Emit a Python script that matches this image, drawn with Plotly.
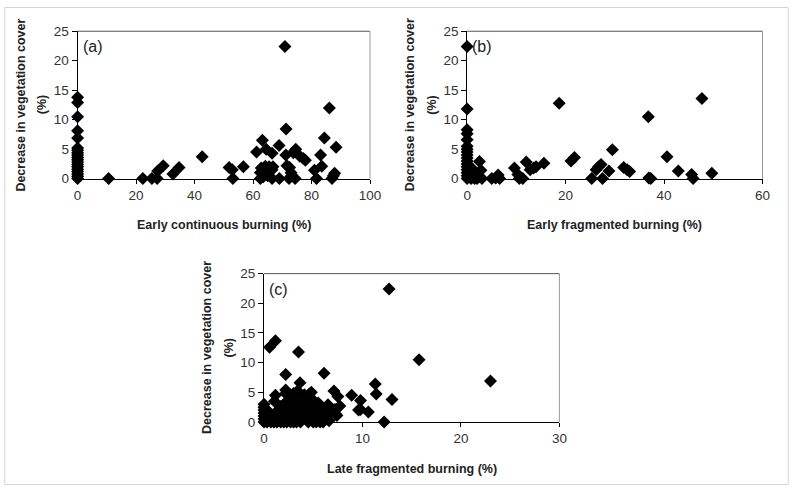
import plotly.graph_objects as go

# ---------------- data ----------------
# Panel (a): Early continuous burning (%) vs decrease in vegetation cover (%)
a_x = [0]*19 + [10.6, 22.3, 25.4, 27.4, 27.2, 29.3, 32.6, 34.7, 42.6, 51.8, 52.9, 53.1, 56.7,
                61.2, 63.2, 64.5, 66.5, 68.9, 70.9, 71.3, 71.2, 71.6, 72.5, 73.0, 73.8, 74.6,
                74.2, 76.0, 77.2, 77.9, 74.4, 72.3, 73.2, 69.0, 66.5, 62.5, 64.2, 62.8, 62.5,
                65.5, 66.5, 66.8, 81.0, 81.7, 83.1, 83.5, 84.4, 86.1, 88.4, 87.0, 87.9, 87.5,
                63.5, 65.0]
a_y = [13.8, 12.9, 10.5, 8.1, 6.9, 5.2, 4.8, 4.4, 4.0, 3.6, 3.2, 2.8, 2.4, 2.0, 1.6, 1.2, 0.8, 0.4, 0.0] + \
      [0.0, 0.0, 0.0, 1.3, 0.0, 2.2, 0.8, 1.9, 3.7, 1.9, 1.5, 0.0, 2.0,
       4.5, 6.5, 5.0, 4.3, 5.6, 22.4, 8.4, 4.0, 2.2, 1.9, 1.0, 4.4, 5.0,
       4.7, 3.8, 3.4, 3.1, 0.0, 0.0, 0.5, 0.0, 0.0, 0.0, 2.1, 1.8, 1.0,
       2.0, 1.5, 2.0, 1.4, 0.0, 4.0, 2.1, 6.9, 12.0, 5.3, 0.0, 0.9, 0.5,
       0.3, 0.5]

# Panel (b): Early fragmented burning (%)
b_x = [0]*17 + [0.5, 0.7, 1.0, 1.3, 0.4, 1.7, 2.0, 1.5, 2.5, 2.8, 2.5, 3.0, 0.8, 2.2,
                5.0, 5.8, 6.3, 6.6, 9.6, 10.3, 10.6, 11.3, 12.0, 12.8, 13.5, 14.0, 15.6,
                18.7, 21.1, 21.8, 25.3, 26.2, 26.7, 27.2, 27.5, 28.8, 29.5, 31.8, 32.5,
                33.0, 36.8, 36.9, 37.3, 40.6, 42.9, 45.6, 45.9, 47.7, 49.7]
b_y = [22.4, 11.8, 8.3, 7.6, 6.6, 5.5, 5.0, 4.5, 4.0, 3.5, 3.0, 2.5, 2.0, 1.5, 1.0, 0.5, 0.0] + \
      [2.0, 0.9, 1.7, 0.3, 0.4, 0.8, 0.0, 0.0, 2.9, 1.4, 0.3, 0.0, 0.0, 0.6,
       0.0, 0.1, 0.6, 0.0, 1.8, 0.7, 0.0, 0.0, 2.8, 1.5, 1.8, 2.0, 2.6,
       12.8, 3.0, 3.6, 0.0, 1.5, 2.0, 2.4, 0.0, 1.3, 4.9, 1.9, 1.5,
       1.2, 10.5, 0.1, 0.0, 3.7, 1.3, 0.7, 0.0, 13.6, 0.9]

# Panel (c): Late fragmented burning (%)
c_x = [0.56, 1.16, 3.5, 2.2, 3.65, 6.1, 11.3, 11.4, 9.8, 8.9, 9.6, 10.6, 12.2, 12.7, 15.75, 23.0,
       13.0, 9.8, 7.1, 7.5, 7.7, 7.2, 7.4, 2.2, 2.2, 1.16, 1.06, 2.5, 3.0, 3.4, 3.7, 4.1, 4.6,
       4.8, 4.3, 3.8, 3.6, 5.1, 5.5, 5.8, 6.5, 6.8, 6.1, 5.1, 4.8, 5.5, 5.8, 6.5, 7.3, 6.6,
       0, 0, 0, 0, 0, 0, 0,
       0.3, 0.7, 1.0, 1.3, 1.7, 2.0, 2.3, 2.7, 3.0, 3.3, 3.7, 4.5, 5.0, 5.3, 5.7, 6.0,
       0.5, 1.0, 1.5, 2.0, 2.5, 3.0, 0.8, 1.8, 2.8, 3.3, 4.0, 4.3, 2.4, 1.3, 3.0, 4.0,
       0.3, 1.7, 4.5, 5.2, 2.0, 3.3, 4.5, 1.5, 0.4]
c_y = [12.6, 13.7, 11.8, 8.0, 6.6, 8.2, 6.4, 4.7, 3.6, 4.5, 2.0, 1.7, 0.0, 22.4, 10.5, 6.9,
       3.8, 2.1, 5.2, 4.3, 2.7, 2.1, 1.1, 5.4, 4.8, 4.5, 3.5, 3.6, 4.8, 5.2, 4.7, 4.6, 4.7,
       5.0, 3.8, 2.9, 2.0, 3.5, 3.2, 2.7, 2.9, 2.1, 2.1, 2.4, 1.6, 1.6, 0.8, 1.3, 1.3, 0.2,
       0.0, 0.5, 1.0, 1.5, 2.0, 2.5, 3.0,
       0.0, 0.0, 0.0, 0.0, 0.0, 0.0, 0.0, 0.0, 0.0, 0.0, 0.0, 0.0, 0.0, 0.0, 0.0, 0.0,
       1.2, 0.8, 1.0, 1.5, 1.0, 1.3, 0.5, 0.4, 0.5, 0.8, 1.0, 0.4, 2.2, 1.8, 2.5, 2.3,
       2.0, 2.6, 1.8, 0.9, 3.0, 3.3, 3.0, 0.3, 0.3]

x_titles = ["Early continuous burning (%)", "Early fragmented burning (%)", "Late fragmented burning (%)"]
y_title_lines = ["Decrease in vegetation cover", "(%)"]
panel_labels = ["(a)", "(b)", "(c)"]
x_ranges = [[0, 100], [0, 60], [0, 30]]
x_dticks = [20, 20, 10]

# ---------------- layout ----------------
W, H = 800, 493
FONT = "Liberation Sans, Arial, sans-serif"

# pixel boxes (left, right, top, bottom)
boxes = [(75, 373, 25, 177), (472, 773, 25, 177), (265, 566, 275, 428)]

fig = go.Figure()
data = [(a_x, a_y), (b_x, b_y), (c_x, c_y)]
for i, (xs, ys) in enumerate(data):
    sfx = "" if i == 0 else str(i + 1)
    fig.add_trace(go.Scatter(
        x=xs, y=ys, mode="markers", xaxis="x" + sfx, yaxis="y" + sfx,
        marker=dict(symbol="diamond", size=10, color="black", line=dict(width=0)),
        cliponaxis=False, showlegend=False, hoverinfo="skip"))

layout = dict(
    width=W, height=H, margin=dict(l=0, r=0, t=0, b=0),
    paper_bgcolor="white", plot_bgcolor="white",
    font=dict(family=FONT, color="#333333"),
    showlegend=False,
)
annotations = []
shapes = [dict(type="rect", xref="paper", yref="paper", x0=0.001, x1=0.999, y0=0.001, y1=0.999,
               line=dict(color="#d4d4d4", width=1))]
for i, (l, r, t, b) in enumerate(boxes):
    sfx = "" if i == 0 else str(i + 1)
    xd = [l / W, r / W]
    yd = [1 - b / H, 1 - t / H]
    layout["xaxis" + sfx] = dict(
        domain=xd, range=x_ranges[i], dtick=x_dticks[i], tick0=0,
        anchor="y" + sfx, showgrid=False, zeroline=False,
        showline=True, linecolor="black", linewidth=1,
        ticks="outside", ticklen=4, tickcolor="black",
        tickfont=dict(family=FONT, size=13.5, color="#333333"), fixedrange=True)
    layout["yaxis" + sfx] = dict(
        domain=yd, range=[0, 25], dtick=5, tick0=0,
        anchor="x" + sfx, showgrid=False, zeroline=False,
        showline=True, linecolor="black", linewidth=1,
        ticks="outside", ticklen=5, tickcolor="black",
        tickfont=dict(family=FONT, size=13.5, color="#333333"), fixedrange=True)
    # top / right frame lines (grey)
    shapes.append(dict(type="line", xref="x" + sfx + " domain", yref="y" + sfx + " domain",
                       x0=0, x1=1, y0=1, y1=1, line=dict(color="#555555", width=1)))
    shapes.append(dict(type="line", xref="x" + sfx + " domain", yref="y" + sfx + " domain",
                       x0=1, x1=1, y0=0, y1=1, line=dict(color="#999999", width=1)))
    # x title
    annotations.append(dict(text="<b>" + x_titles[i] + "</b>", xref="paper", yref="paper",
                            x=(l + r) / 2 / W, y=1 - (b + 48) / H, showarrow=False,
                            font=dict(family=FONT, size=12.5, color="#222222"),
                            xanchor="center", yanchor="middle"))
    # y title (two lines)
    for k, (line_txt, off) in enumerate(zip(y_title_lines, [58, 36])):
        annotations.append(dict(text="<b>" + line_txt + "</b>", xref="paper", yref="paper",
                                x=(l - off) / W, y=1 - (t + b) / 2 / H, showarrow=False,
                                textangle=-90,
                                font=dict(family=FONT, size=12.5, color="#222222"),
                                xanchor="center", yanchor="middle"))
    # panel label
    annotations.append(dict(text=panel_labels[i], xref="paper", yref="paper",
                            x=(l + 3) / W, y=1 - (t + 16) / H, showarrow=False,
                            font=dict(family=FONT, size=16, color="#222222"),
                            xanchor="left", yanchor="middle"))

layout["annotations"] = annotations
layout["shapes"] = shapes
fig.update_layout(**layout)
fig.write_html("out.html", config={"displayModeBar": False},
               post_script="document.body.style.margin='0';document.body.style.padding='0';")
